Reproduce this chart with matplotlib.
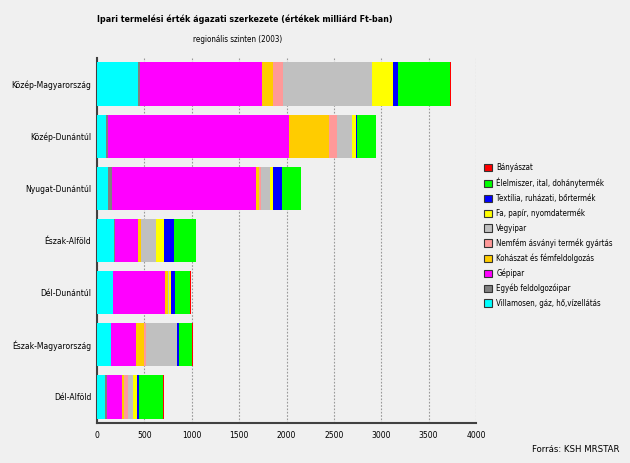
import matplotlib
matplotlib.use("Agg")
import matplotlib.pyplot as plt
from matplotlib.patches import Patch
import numpy as np

plt.rcParams['font.family'] = ['DejaVu Sans']
plt.rcParams['font.stretch'] = 'condensed'

regions = ["Közép-Magyarország", "Közép-Dunántúl", "Nyugat-Dunántúl", "Észak-Alföld",
           "Dél-Dunántúl", "Észak-Magyarország", "Dél-Alföld"]

# segment values, in stacking order from the left
villamos   = [436, 100, 119, 183, 166, 144, 81]
egyeb      = [18, 20, 43, 3, 3, 5, 24]
gepipar    = [1291, 1906, 1519, 250, 549, 259, 155]
kohaszat   = [113, 426, 26, 25, 28, 85, 21]
nemfem     = [100, 78, 24, 3, 5, 24, 49]
vegyipar   = [940, 161, 95, 162, 10, 327, 50]
fa_papir   = [225, 39, 35, 81, 15, 3, 39]
textil     = [57, 17, 88, 109, 47, 18, 27]
elelmiszer = [550, 194, 201, 229, 161, 141, 254]
banyaszat  = [5, 5, 5, 3, 10, 5, 3]

series = [
    ("Villamosen, gáz, hő,vízellátás", villamos, "#00ffff"),
    ("Egyéb feldolgozóipar", egyeb, "#808080"),
    ("Gépipar", gepipar, "#ff00ff"),
    ("Kohászat és fémfeldolgozás", kohaszat, "#ffcc00"),
    ("Nemfém ásványi termék gyártás", nemfem, "#ff9999"),
    ("Vegyipar", vegyipar, "#c0c0c0"),
    ("Fa, papír, nyomdatermék", fa_papir, "#ffff00"),
    ("Textília, ruházati, bőrtermék", textil, "#0000ff"),
    ("Élelmiszer, ital, dohánytermék", elelmiszer, "#00ff00"),
    ("Bányászat", banyaszat, "#ff0000"),
]

bg = "#f0f0f0"
fig = plt.figure(figsize=(6.3, 4.63), dpi=100, facecolor=bg)
ax = fig.add_axes([97/630, 1-423/463, (476-97)/630, (423-58)/463], facecolor=bg)

y = np.arange(len(regions))
left = np.zeros(len(regions))
for name, vals, col in series:
    vals = np.array(vals, dtype=float)
    ax.barh(y, vals, left=left, height=0.83, color=col, edgecolor='none', zorder=3)
    left += vals

ax.set_xlim(0, 4000)
ax.set_ylim(6.5, -0.5)
ax.set_yticks(y)
ax.set_yticklabels(regions, fontsize=6.1)
ax.set_xticks(np.arange(0, 4001, 500))
ax.tick_params(axis='x', labelsize=6.1, length=0, pad=6)
ax.tick_params(axis='y', length=0, pad=4)
ax.grid(axis='x', color='#999999', linestyle=(0, (1.5, 1.5)), linewidth=0.8, zorder=0)
for s in ['top', 'right']:
    ax.spines[s].set_visible(False)
for s in ['left', 'bottom']:
    ax.spines[s].set_color('#404040')
    ax.spines[s].set_linewidth(1.5)

handles = [Patch(facecolor=c, edgecolor='#333333', linewidth=0.8, label=n)
           for n, v, c in series[::-1]]
fig.legend(handles=handles, loc='upper left', bbox_to_anchor=(481/630, 1-160/463),
           frameon=False, fontsize=5.7, handlelength=1.05, handleheight=1.05,
           handletextpad=0.5, labelspacing=0.71, borderaxespad=0)

fig.text(245/630, 1-19/463, "Ipari termelési érték ágazati szerkezete (értékek milliárd Ft-ban)",
         ha='center', va='center', fontsize=6.4, fontweight='bold')
fig.text(238/630, 1-40/463, "regionális szinten (2003)", ha='center', va='center', fontsize=5.8)
fig.text(620/630, 1-449/463, "Forrás: KSH MRSTAR", ha='right', va='center', fontsize=6.8)

fig.savefig("out.png", dpi=100, facecolor=bg)
